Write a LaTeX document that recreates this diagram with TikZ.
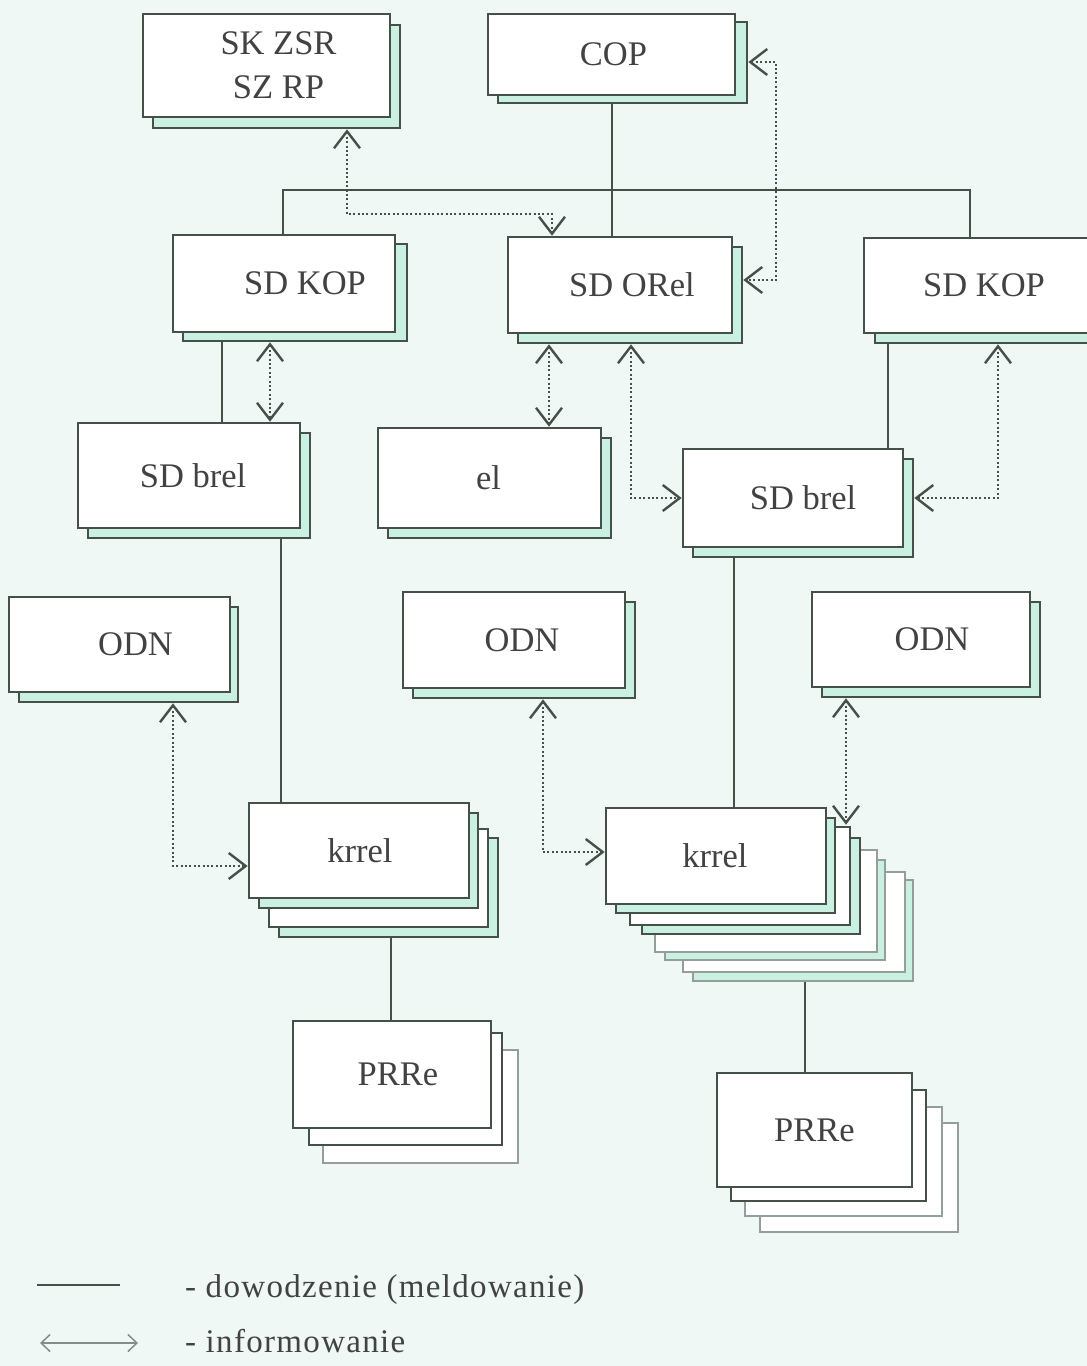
\documentclass[tikz,border=0pt]{standalone}
\usepackage{fontspec}
\setmainfont{Liberation Serif}
\newfontfamily\legendfont{Liberation Serif}[LetterSpace=4]
\usetikzlibrary{arrows.meta,calc}

\definecolor{paper}{RGB}{240,248,246}
\definecolor{edge}{RGB}{68,80,72}
\definecolor{lightedge}{RGB}{150,158,154}
\definecolor{mint}{RGB}{202,240,226}
\definecolor{ink}{RGB}{66,66,66}

\pgfdeclarelayer{paperlayer}
\pgfdeclarelayer{links}
\pgfsetlayers{paperlayer,links,main}

\tikzset{
  frontbox/.style={draw=edge, line width=2.6pt, fill=white, inner sep=0pt},
  shadowbox/.style={draw=edge, line width=2.6pt, fill=mint},
  paperbox/.style={draw=edge, line width=2.6pt, fill=white},
  faintbox/.style={draw=lightedge, line width=1.1pt, fill=white},
  faintmint/.style={draw=lightedge, line width=1.1pt, fill=mint},
  lbl/.style={text=ink, font=\fontsize{34.5}{44}\selectfont, inner sep=0pt},
  legend/.style={text=ink, font=\legendfont\fontsize{33}{38}\selectfont, inner sep=0pt},
  cmd/.style={draw=edge, line width=2.3pt},
  barb/.tip={Straight Barb[length=17pt,width=26pt,line width=2.4pt]},
  info/.style={draw=edge, line width=2pt, dash pattern=on 2pt off 2.4pt, barb-barb},
  legendarrow/.style={draw=edge!65, line width=1.3pt,
    {Straight Barb[length=9pt,width=17pt,line width=1.5pt]}-{Straight Barb[length=9pt,width=17pt,line width=1.5pt]}},
}

% a rectangle lying behind a box
\newcommand\sheet[5]{\path[#1] (#2,#3) rectangle (#4,#5);}
% the front box: name, corners, label options, label text
\newcommand\mkbox[7]{%
  \node[frontbox, minimum width={(#4-#2)*1pt}, minimum height={(#5-#3)*1pt},
        label={[lbl,#6]center:#7}] (#1) at ({(#2+#4)/2},{(#3+#5)/2}) {};}

\begin{document}
\begin{tikzpicture}[x=1pt,y=-1pt]
\useasboundingbox (0,0) rectangle (1087,1366);
\begin{pgfonlayer}{paperlayer}
  \fill[paper] (0,0) rectangle (1087,1366);
\end{pgfonlayer}

% top level
\sheet{shadowbox}{153}{25}{400}{128}
\mkbox{sk}{143}{14}{390}{117}{xshift=12pt,align=center}{SK ZSR\\SZ RP}
\sheet{shadowbox}{498}{22}{747}{103}
\mkbox{cop}{488}{14}{735}{95}{xshift=2pt}{COP}

% second level
\sheet{shadowbox}{183}{244}{407}{341}
\mkbox{sdkop}{173}{235}{395}{332}{xshift=21pt}{SD KOP}
\sheet{shadowbox}{518}{247}{742}{343}
\mkbox{sdorel}{508}{237}{732}{333}{xshift=12pt}{SD ORel}
\sheet{shadowbox}{875}{248}{1110}{343}
\mkbox{sdkopr}{864}{238}{1100}{333}{xshift=2pt}{SD KOP}

% third level
\sheet{shadowbox}{88}{433}{310}{538}
\mkbox{sdbrel}{78}{423}{300}{528}{xshift=4pt}{SD brel}
\sheet{shadowbox}{388}{438}{611}{538}
\mkbox{el}{378}{428}{601}{528}{xshift=-1pt}{el}
\sheet{shadowbox}{693}{459}{913}{557}
\mkbox{sdbrelr}{683}{449}{903}{547}{xshift=10pt}{SD brel}

% ODN boxes
\sheet{shadowbox}{19}{607}{238}{702}
\mkbox{odn1}{9}{597}{230}{692}{xshift=16pt}{ODN}
\sheet{shadowbox}{413}{602}{635}{698}
\mkbox{odn2}{403}{592}{625}{688}{xshift=8pt}{ODN}
\sheet{shadowbox}{822}{602}{1040}{697}
\mkbox{odn3}{812}{592}{1030}{687}{xshift=11pt}{ODN}

% krrel stacks
\sheet{shadowbox}{279}{838}{498}{937}
\sheet{paperbox}{269}{829}{488}{927}
\sheet{shadowbox}{259}{813}{478}{908}
\mkbox{krrel1}{249}{803}{469}{898}{xshift=1pt}{krrel}

\sheet{faintmint}{693}{880}{913}{981}
\sheet{faintbox}{683}{872}{905}{972}
\sheet{faintmint}{665}{860}{885}{960}
\sheet{faintbox}{655}{850}{877}{952}
\sheet{shadowbox}{642}{838}{860}{934}
\sheet{paperbox}{630}{827}{850}{925}
\sheet{shadowbox}{616}{818}{835}{913}
\mkbox{krrel2}{606}{808}{826}{904}{xshift=-1pt}{krrel}

% PRRe stacks
\sheet{faintbox}{323}{1050}{518}{1163}
\sheet{paperbox}{309}{1033}{502}{1145}
\mkbox{prre1}{293}{1021}{491}{1128}{xshift=6pt}{PRRe}

\sheet{faintbox}{760}{1123}{958}{1232}
\sheet{faintbox}{745}{1107}{942}{1216}
\sheet{paperbox}{731}{1090}{926}{1201}
\mkbox{prre2}{717}{1073}{912}{1187}{}{PRRe}

\coordinate (bus) at (612,190);

\begin{pgfonlayer}{links}
  % command lines
  \draw[cmd] ($(cop.south)+(0.5,8)$) -- ($(sdorel.north)+(-8,0)$);
  \draw[cmd] ($(sdkop.north)+(-1,0)$) |- (bus) -| ($(sdkopr.north)+(-12,0)$);
  \draw[cmd] ($(sdkop.south)+(-62,9)$) -- ($(sdbrel.north)+(33,0)$);
  \draw[cmd] ($(sdbrel.south)+(92,10)$) -- ($(krrel1.north)+(-78,0)$);
  \draw[cmd] ($(sdkopr.south)+(-94,10)$) -- ($(sdbrelr.north)+(95,0)$);
  \draw[cmd] ($(sdbrelr.south)+(-59,10)$) -- ($(krrel2.north)+(18,0)$);
  \draw[cmd] ($(krrel1.south)+(32,39)$) -- ($(prre1.north)+(-1,0)$);
  \draw[cmd] ($(krrel2.south)+(89,77)$) -- ($(prre2.north)+(-9.5,0)$);
\end{pgfonlayer}

% information links
\draw[info] ($(sk.south)+(80.5,11)$) -- ++(0,85) -| ($(sdorel.north)+(-68,0)$);
\draw[info] ($(cop.east)+(12,7.5)$) -- ++(28,0) |- ($(sdorel.east)+(10,-5)$);
\draw[info] ($(sdkop.south)+(-14,9)$) -- ($(sdbrel.north)+(81,0)$);
\draw[info] ($(sdorel.south)+(-71,10)$) -- ($(el.north)+(59.5,0)$);
\draw[info] ($(sdorel.south)+(11,10)$) |- (sdbrelr.west);
\draw[info] ($(sdkopr.south)+(16,10)$) |- ($(sdbrelr.east)+(10,0)$);
\draw[info] ($(odn1.south)+(53.5,10)$) |- ($(krrel1.west)+(0,15.5)$);
\draw[info] ($(odn2.south)+(29,10)$) |- ($(krrel2.west)+(0,-4)$);
\draw[info] ($(odn3.south)+(-75,10)$) -- ($(krrel2.north)+(130,18)$);

% legend
\coordinate (cmdA) at (37,1285);
\coordinate (cmdB) at (120,1285);
\draw[cmd, line width=1.8pt] (cmdA) -- (cmdB);
\node[legend, anchor=base west] (lg1) at (185,1297) {- dowodzenie (meldowanie)};
\coordinate (infA) at (40,1343);
\coordinate (infB) at (138,1343);
\draw[legendarrow] (infA) -- (infB);
\node[legend, anchor=base west] (lg2) at (185,1352) {- informowanie};
\end{tikzpicture}
\end{document}
